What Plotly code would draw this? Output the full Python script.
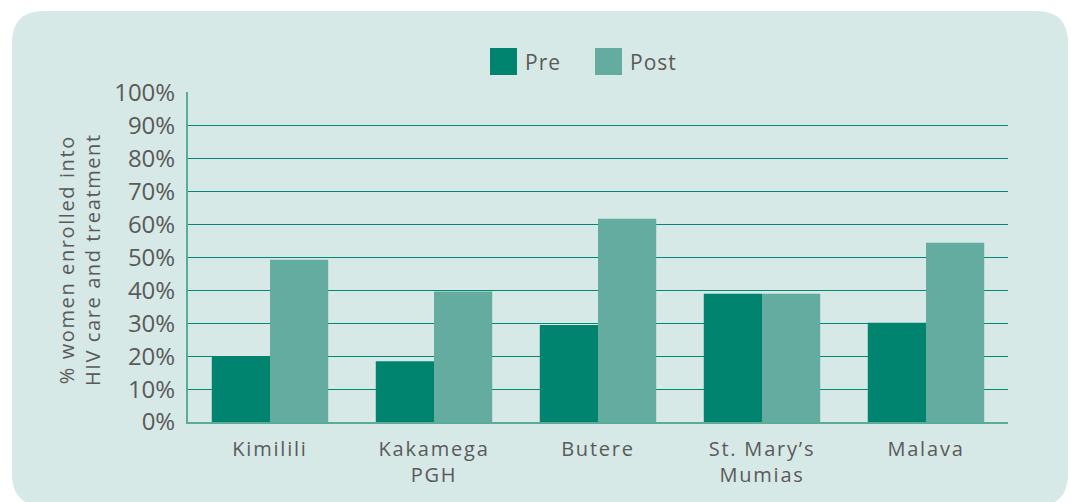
import plotly.graph_objects as go

categories = ["Kimilili", "Kakamega<br>PGH", "Butere", "St. Mary’s<br>Mumias", "Malava"]
pre_values = [20, 18.5, 29.5, 39, 30.2]
post_values = [49.3, 39.7, 61.8, 39, 54.5]
y_ticks = [0, 10, 20, 30, 40, 50, 60, 70, 80, 90, 100]
y_tick_labels = ["0%", "10%", "20%", "30%", "40%", "50%", "60%", "70%", "80%", "90%", "100%"]
series_names = ["Pre", "Post"]

PRE_COLOR = "#00846f"
POST_COLOR = "#64ac9f"
BG = "#d7e9e6"
TEXT = "#5a5a5a"
FONT = "Open Sans"

W, H = 1071, 502
# plot area in window pixels
PL, PR, PT, PB = 188, 1008, 92, 422
PW, PH = PR - PL, PB - PT


def px(x):
    return (x - PL) / PW


def py(y):
    return (PB - y) / PH


def spaced(text, sp):
    return "<br>".join(f'<span style="letter-spacing:{sp}px">{part}</span>'
                       for part in text.split("<br>"))


fig = go.Figure()
fig.add_trace(go.Bar(x=categories, y=pre_values, name=series_names[0],
                     marker=dict(color=PRE_COLOR, line=dict(width=0)), showlegend=False))
fig.add_trace(go.Bar(x=categories, y=post_values, name=series_names[1],
                     marker=dict(color=POST_COLOR, line=dict(width=0)), showlegend=False))

# rounded background panel
x0, x1, y0, y1, r = 12, 1068, 11, 506, 32
path = (
    f"M {px(x0 + r)} {py(y0)} L {px(x1 - r)} {py(y0)} "
    f"Q {px(x1)} {py(y0)} {px(x1)} {py(y0 + r)} "
    f"L {px(x1)} {py(y1 - r)} Q {px(x1)} {py(y1)} {px(x1 - r)} {py(y1)} "
    f"L {px(x0 + r)} {py(y1)} Q {px(x0)} {py(y1)} {px(x0)} {py(y1 - r)} "
    f"L {px(x0)} {py(y0 + r)} Q {px(x0)} {py(y0)} {px(x0 + r)} {py(y0)} Z"
)
shapes = [dict(type="path", xref="paper", yref="paper", path=path,
               fillcolor=BG, line=dict(width=0), layer="below")]

# legend squares
legend_items = [(490, series_names[0], PRE_COLOR), (595, series_names[1], POST_COLOR)]
annotations = []
for lx, name, col in legend_items:
    shapes.append(dict(type="rect", xref="paper", yref="paper",
                       x0=px(lx), x1=px(lx + 27), y0=py(75), y1=py(48),
                       fillcolor=col, line=dict(width=0)))
    annotations.append(dict(xref="paper", yref="paper", x=px(lx + 33), y=py(62),
                            text=spaced(name, 1), showarrow=False, xanchor="left",
                            yanchor="middle",
                            font=dict(family=FONT, size=21, color=TEXT)))

annotations.append(dict(xref="paper", yref="paper", x=px(79), y=py(260),
                        text=spaced("% women enrolled into<br>HIV care and treatment", 1.6),
                        showarrow=False, textangle=-90, xanchor="center", yanchor="middle",
                        font=dict(family=FONT, size=20, color=TEXT)))

fig.update_layout(
    width=W, height=H, autosize=False,
    margin=dict(l=PL, r=W - PR, t=PT, b=H - PB),
    paper_bgcolor="white",
    plot_bgcolor="rgba(0,0,0,0)",
    barmode="group", bargap=0.29, bargroupgap=0,
    shapes=shapes, annotations=annotations,
    showlegend=False,
    font=dict(family=FONT, color=TEXT),
    xaxis=dict(showgrid=False, showline=True, linecolor="#5aab9a", linewidth=2,
               ticks="", tickmode="array", tickvals=categories,
               ticktext=[spaced(c, 1.8) for c in categories],
               tickfont=dict(family=FONT, size=20, color=TEXT),
               ticklabelstandoff=8, fixedrange=True),
    yaxis=dict(range=[0, 100.3], tickmode="array", tickvals=y_ticks, ticktext=y_tick_labels,
               showgrid=True, gridcolor="#008a76", gridwidth=1.3,
               showline=True, linecolor="#5aab9a", linewidth=2,
               zeroline=False, ticks="", ticklabelstandoff=6,
               tickfont=dict(family=FONT, size=24, color=TEXT), fixedrange=True),
)

fig.write_html(
    "out.html",
    config={"displayModeBar": False},
    post_script="document.body.style.margin='0';"
                "document.documentElement.style.overflow='hidden';"
                "document.body.style.overflow='hidden';",
)
